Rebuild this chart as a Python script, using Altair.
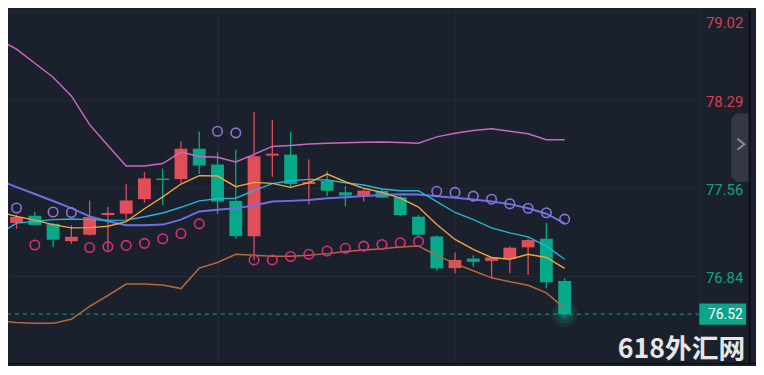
import altair as alt
import pandas as pd

# ---------------- data ----------------
candle_idx = list(range(31))
opens = [77.274, 77.333, 77.266, 77.123, 77.176, 77.339, 77.350, 77.470, 77.640, 77.636,
         77.887, 77.756, 77.456, 77.164, 77.830, 77.838, 77.595, 77.620, 77.527, 77.491,
         77.538, 77.486, 77.325, 77.162, 76.900, 76.979, 76.960, 76.979, 77.072, 77.143,
         76.794]
highs = [77.342, 77.366, 77.276, 77.254, 77.459, 77.405, 77.595, 77.693, 77.724, 77.949,
         78.029, 77.857, 77.879, 78.192, 78.124, 78.029, 77.797, 77.701, 77.579, 77.550,
         77.554, 77.497, 77.339, 77.170, 77.029, 77.006, 76.990, 77.078, 77.143, 77.274,
         76.816]
lows = [77.225, 77.252, 77.072, 77.102, 77.168, 77.050, 77.307, 77.442, 77.421, 77.603,
        77.677, 77.347, 77.143, 76.966, 77.655, 77.560, 77.429, 77.497, 77.410, 77.450,
        77.480, 77.328, 77.164, 76.878, 76.857, 76.911, 76.810, 76.857, 76.843, 76.734,
        76.520]
closes = [77.323, 77.257, 77.135, 77.159, 77.323, 77.356, 77.459, 77.642, 77.628, 77.887,
          77.748, 77.450, 77.164, 77.824, 77.846, 77.595, 77.612, 77.540, 77.500, 77.540,
          77.483, 77.339, 77.176, 76.898, 76.968, 76.952, 76.988, 77.069, 77.132, 76.783,
          76.520]

line_idx = list(range(-1, 31))
boll_upper = [78.789, 78.710, 78.593, 78.478, 78.323, 78.086, 77.914, 77.745, 77.745, 77.764,
              77.859, 77.822, 77.816, 77.777, 77.840, 77.906, 77.914, 77.925, 77.933, 77.937,
              77.941, 77.942, 77.939, 77.933, 77.985, 78.015, 78.037, 78.051, 78.031, 78.010,
              77.961, 77.961]
boll_lower = [76.463, 76.450, 76.445, 76.445, 76.477, 76.584, 76.674, 76.769, 76.769, 76.761,
              76.731, 76.900, 76.947, 77.015, 77.006, 76.998, 76.998, 77.006, 77.020, 77.037,
              77.050, 77.060, 77.074, 77.082, 77.005, 76.937, 76.878, 76.820, 76.787, 76.759,
              76.696, 76.568]
ma_blue = [77.628, 77.570, 77.513, 77.455, 77.396, 77.328, 77.287, 77.254, 77.254, 77.260,
           77.301, 77.369, 77.383, 77.396, 77.418, 77.450, 77.456, 77.464, 77.478, 77.486,
           77.497, 77.505, 77.511, 77.508, 77.494, 77.481, 77.468, 77.450, 77.429, 77.395,
           77.350, 77.271]
ma_cyan = [77.180, 77.272, 77.287, 77.301, 77.306, 77.301, 77.295, 77.297, 77.325, 77.356,
           77.403, 77.456, 77.473, 77.478, 77.542, 77.599, 77.622, 77.634, 77.628, 77.606,
           77.587, 77.554, 77.540, 77.540, 77.450, 77.360, 77.301, 77.233, 77.192, 77.159,
           77.082, 76.974]
ma_orange = [77.365, 77.328, 77.297, 77.260, 77.233, 77.235, 77.246, 77.284, 77.391, 77.489,
             77.595, 77.665, 77.661, 77.573, 77.609, 77.601, 77.568, 77.606, 77.677, 77.614,
             77.560, 77.526, 77.478, 77.405, 77.260, 77.137, 77.055, 76.988, 76.974, 77.015,
             76.988, 76.898]

sar_above_idx = [0, 2, 3, 11, 12, 23, 24, 25, 26, 27, 28, 29, 30]
sar_above_val = [77.397, 77.364, 77.360, 78.031, 78.018, 77.535, 77.526, 77.495, 77.470,
                 77.432, 77.395, 77.358, 77.305]
sar_below_idx = [1, 4, 5, 6, 7, 8, 9, 10, 13, 14, 15, 16, 17, 18, 19, 20, 21, 22]
sar_below_val = [77.091, 77.070, 77.078, 77.088, 77.105, 77.143, 77.186, 77.266, 76.968,
                 76.968, 76.996, 77.015, 77.042, 77.064, 77.082, 77.096, 77.110, 77.121]

price_ticks = [76.1068, 76.8351, 77.5634, 78.2917, 79.02]
vgrid_idx = [11, 24]
watermark = "618外汇网"

# ---------------- styling ----------------
BG = "#1b202d"
GRID = "#252c37"
UP = "#e04e5a"
DOWN = "#08a88a"
W, H = 699, 358

candles = pd.DataFrame({"idx": candle_idx, "open": opens, "high": highs,
                        "low": lows, "close": closes})
candles["dir"] = ["up" if c >= o else "down" for o, c in zip(opens, closes)]

lines = {
    "upper": (boll_upper, "#cc66c4", 1.5),
    "lower": (boll_lower, "#b5683b", 1.5),
    "blue": (ma_blue, "#6b70e8", 2.0),
    "cyan": (ma_cyan, "#25b4d6", 1.4),
    "orange": (ma_orange, "#f4a43c", 1.4),
}

sar_above = pd.DataFrame({"idx": sar_above_idx, "val": sar_above_val})
sar_below = pd.DataFrame({"idx": sar_below_idx, "val": sar_below_val})

last = pd.DataFrame({"idx": [candle_idx[-1]], "close": [closes[-1]],
                     "label": [f"{closes[-1]:.2f}"]})
one = pd.DataFrame({"k": [0]})
wm = pd.DataFrame({"t": [watermark]})

xscale = alt.Scale(domain=[-0.1975, 37.116], nice=False, zero=False)
yscale = alt.Scale(domain=[76.1070, 79.0342], nice=False, zero=False)
xaxis = alt.Axis(values=vgrid_idx, grid=True, gridColor=GRID, gridWidth=1,
                 labels=False, ticks=False, domain=False, title=None)
yaxis = alt.Axis(orient="right", values=price_ticks, format=".2f", grid=True,
                 gridColor=GRID, gridWidth=1, ticks=False, domain=True,
                 domainColor=GRID, labelFont="Roboto", labelFontSize=15,
                 labelPadding=6, labelOffset=2, labelFlush=3, labelFlushOffset=-2,
                 labelColor={"condition": {"test": "datum.value > 78", "value": "#dc3f4c"},
                             "value": "#13a286"},
                 title=None)


def X(field):
    return alt.X(field, type="quantitative", scale=xscale, axis=xaxis)


def Y(field):
    return alt.Y(field, type="quantitative", scale=yscale, axis=yaxis)


dir_color = alt.Color("dir:N", scale=alt.Scale(domain=["up", "down"], range=[UP, DOWN]),
                      legend=None)

wicks = alt.Chart(candles).mark_rule(strokeWidth=1.3).encode(
    x=X("idx"), y=Y("low"), y2="high", color=dir_color)
bodies = alt.Chart(candles).mark_bar(size=13).encode(
    x=X("idx"), y=Y("open"), y2="close", color=dir_color)

line_layers = []
for name, (vals, col, sw) in lines.items():
    df = pd.DataFrame({"idx": line_idx, "v": vals})
    line_layers.append(
        alt.Chart(df).mark_line(color=col, strokeWidth=sw, clip=True).encode(
            x=X("idx"), y=Y("v")))

sar_layers = [
    alt.Chart(df).mark_point(shape="circle", size=92, strokeWidth=1.6, filled=False,
                             opacity=1, color=col).encode(x=X("idx"), y=Y("val"))
    for df, col in [(sar_above, "#8e73dc"), (sar_below, "#db2f7a")]
]

price_line = alt.Chart(last).mark_rule(color="#13a286", strokeWidth=1,
                                       strokeDash=[4, 4]).encode(y=Y("close"))

glow = [
    alt.Chart(last).mark_point(shape="circle", filled=True, size=s, color="#19b898",
                               opacity=op, strokeWidth=0).encode(x=X("idx"), y=Y("close"))
    for s, op in [(700, 0.10), (380, 0.12), (160, 0.15), (50, 0.25)]
]

box = alt.Chart(last).mark_point(
    shape="M-1,-0.4567L1,-0.4567L1,0.4567L-1,0.4567Z", size=2237, filled=True,
    color="#0ba689", opacity=1, strokeWidth=0).encode(x=alt.value(722.35), y=Y("close"))
box_text = alt.Chart(last).mark_text(align="left", baseline="middle", font="Roboto",
                                     fontSize=14, color="#ffffff", dy=1).encode(
    x=alt.value(707.5), y=Y("close"), text="label:N")

tab = alt.Chart(one).mark_point(
    shape="M-0.261,-0.855L-0.116,-1L0.261,-1L0.261,1L-0.116,1L-0.261,0.855Z",
    size=4761, filled=True, color="#323846", opacity=1, strokeWidth=0).encode(
    x=alt.value(740), y=alt.value(139.2))
chevron = alt.Chart(one).mark_point(
    shape="M-0.32,-0.5L0.32,0L-0.32,0.5", size=484, filled=False, color="#8a8f9c",
    opacity=1, strokeWidth=1.8).encode(x=alt.value(740.7), y=alt.value(135.8))
right_border = alt.Chart(one).mark_rule(color="#0e1016", strokeWidth=2).encode(
    x=alt.value(749.5), y=alt.value(0), y2=alt.value(H))
bottom_border = alt.Chart(one).mark_rule(color="#0e1016", strokeWidth=1.5).encode(
    x=alt.value(0), x2=alt.value(756), y=alt.value(H - 0.5))

wm_text = alt.Chart(wm).mark_text(align="right", baseline="alphabetic",
                                  font="Noto Sans CJK SC", fontWeight="bold",
                                  fontSize=27, color="#e6e6e6").encode(
    x=alt.value(745), y=alt.value(351.5), text="t:N")

chart = alt.layer(
    wicks, bodies, *line_layers, *sar_layers, price_line, *glow,
    box, box_text, tab, chevron, right_border, bottom_border, wm_text
).properties(
    width=W, height=H,
    autosize=alt.AutoSizeParams(type="none"),
    padding={"left": 0, "top": 0, "right": 57, "bottom": 0},
).configure(background=BG).configure_view(strokeWidth=0, fill=BG)

chart.save("out.html", embed_options={"renderer": "svg", "actions": False})
